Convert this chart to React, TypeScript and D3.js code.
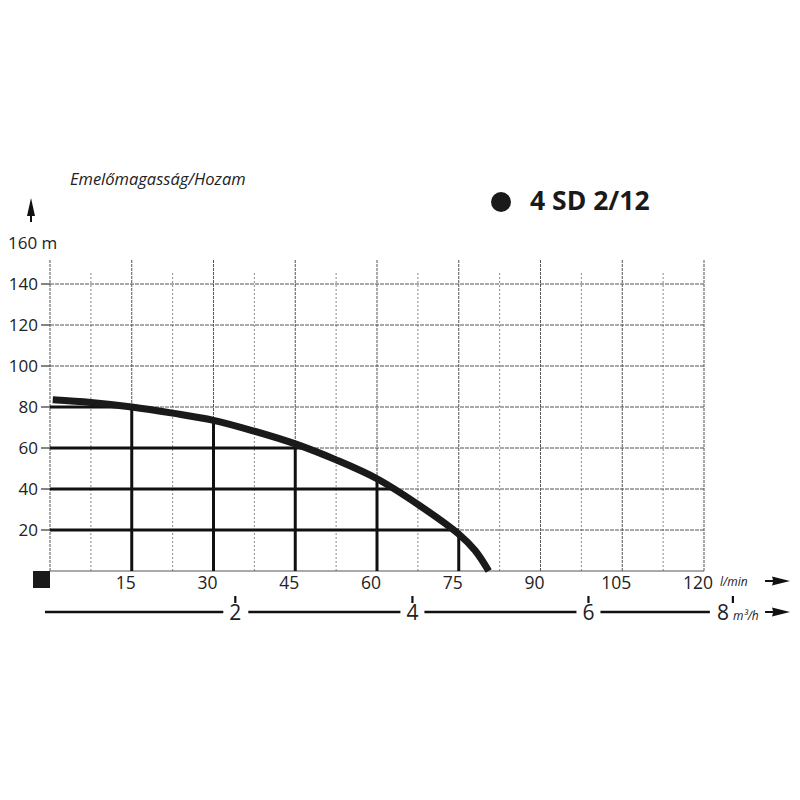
import React from "react";
import * as d3 from "d3";

const curveQ = [0.5, 7.5, 15, 22.5, 30, 37.5, 45, 52.5, 60, 67.5, 75, 78, 80.5];
const curveH = [83.5, 82.2, 80, 77, 73.5, 68.2, 62, 54.2, 45, 32.5, 18, 10, 0];
const vLineQ = [15, 30, 45, 60, 75];
const vLineTopH = [80, 73.5, 62, 45, 18];
const hLineH = [20, 40, 60, 80];
const hLineEndQ = [75, 63.5, 46.5, 15];
const yTicks = [20, 40, 60, 80, 100, 120, 140];
const xTicks = [15, 30, 45, 60, 75, 90, 105, 120];
const xMinor = [7.5, 22.5, 37.5, 52.5, 67.5, 82.5, 97.5, 112.5];
const m3Ticks = [2, 4, 6, 8];
const m3PosLmin = [34, 66.5, 98.8, 125.3];

export default function App() {
  const W = 800, H = 800;
  const x = d3.scaleLinear().domain([0, 120]).range([50, 704]);
  const y = d3.scaleLinear().domain([0, 160]).range([571, 243]);
  const m3x = d3.scaleLinear().domain(m3Ticks).range(m3PosLmin.map((v) => x(v)));
  const pts: [number, number][] = curveQ.map((q, i) => [q, curveH[i]]);
  const line = d3
    .line<[number, number]>()
    .x((d) => x(d[0]))
    .y((d) => y(d[1]))
    .curve(d3.curveCatmullRom.alpha(0.5));
  const font = "'Open Sans', 'DejaVu Sans', sans-serif";
  const y0 = y(0);
  const arrow = (x1: number, yy: number) =>
    `M${x1},${yy - 1} L${x1 + 8},${yy - 1} L${x1 + 7},${yy - 4.5} L${x1 + 25},${yy} L${x1 + 7},${yy + 4.5} L${x1 + 8},${yy + 1} L${x1},${yy + 1} Z`;
  const m3LineY = 612;
  const segs: [number, number][] = [
    [45, m3x(2) - 12],
    [m3x(2) + 13, m3x(4) - 12],
    [m3x(4) + 12, m3x(6) - 12],
    [m3x(6) + 12, m3x(8) - 23],
  ];
  return (
    <svg width={W} height={H} style={{ display: "block", position: "absolute", left: 0, top: 0 }} fontFamily={font}>
      <rect width={W} height={H} fill="#fff" />
      <text x={70} y={185} fontSize={16.5} fontStyle="italic" fill="#222">
        Emelőmagasság/Hozam
      </text>
      <path d="M31,198 L35,216 L32,216 L32,222 L30,222 L30,216 L27,216 Z" fill="#111" />
      <text x={8} y={249} fontSize={17} fill="#222">
        160 m
      </text>
      <circle cx={501} cy={202} r={10} fill="#1a1a1a" />
      <text x={530} y={210} fontSize={26.5} fontWeight="bold" fill="#1a1a1a">
        4 SD 2/12
      </text>
      {xMinor.map((q) => (
        <line key={"mn" + q} x1={x(q)} x2={x(q)} y1={y0} y2={y(140) - 12} stroke="#888" strokeWidth={1} strokeDasharray="2,2" />
      ))}
      {[0, ...xTicks].map((q) => (
        <line key={"mj" + q} x1={x(q)} x2={x(q)} y1={y0} y2={y(140) - 24} stroke="#555" strokeWidth={1} strokeDasharray="3,1" />
      ))}
      {[0, ...yTicks].map((h) => (
        <line key={"h" + h} x1={x(0)} x2={x(120)} y1={y(h)} y2={y(h)} stroke="#555" strokeWidth={1} strokeDasharray={h === 0 ? undefined : "4,1"} />
      ))}
      {yTicks.map((h) => (
        <g key={"yt" + h}>
          <line x1={41} x2={50} y1={y(h)} y2={y(h)} stroke="#333" strokeWidth={1.2} />
          <text x={38} y={y(h) + 6} fontSize={17} textAnchor="end" fill="#222">
            {h}
          </text>
        </g>
      ))}
      {vLineQ.map((q, i) => (
        <line key={"tv" + q} x1={x(q)} x2={x(q)} y1={y0} y2={y(vLineTopH[i])} stroke="#111" strokeWidth={3} />
      ))}
      {hLineH.map((h, i) => (
        <line key={"th" + h} x1={x(0)} x2={x(hLineEndQ[i])} y1={y(h)} y2={y(h)} stroke="#111" strokeWidth={3} />
      ))}
      <path d={line(pts) || ""} fill="none" stroke="#1a1a1a" strokeWidth={7} />
      <rect x={33} y={y0} width={17} height={17} fill="#1a1a1a" />
      {xTicks.map((q) => (
        <text key={"xl" + q} x={x(q) - 6} y={589} fontSize={17.5} textAnchor="middle" fill="#222">
          {q}
        </text>
      ))}
      <text x={720} y={586} fontSize={12} fontStyle="italic" fill="#222">
        l/min
      </text>
      <path d={arrow(765, 581)} fill="#111" />
      {segs.map((s, i) => (
        <line key={"sg" + i} x1={s[0]} x2={s[1]} y1={m3LineY} y2={m3LineY} stroke="#111" strokeWidth={2.5} />
      ))}
      {m3Ticks.map((v) => (
        <g key={"m3" + v}>
          <line x1={m3x(v)} x2={m3x(v)} y1={596} y2={603} stroke="#111" strokeWidth={2.2} />
          <text x={v === 8 ? m3x(v) - 10 : m3x(v)} y={620} fontSize={21} textAnchor="middle" fill="#222">
            {v}
          </text>
        </g>
      ))}
      <text x={733} y={620} fontSize={12} fontStyle="italic" fill="#222">
        m³/h
      </text>
      <path d={arrow(765, m3LineY)} fill="#111" />
    </svg>
  );
}
